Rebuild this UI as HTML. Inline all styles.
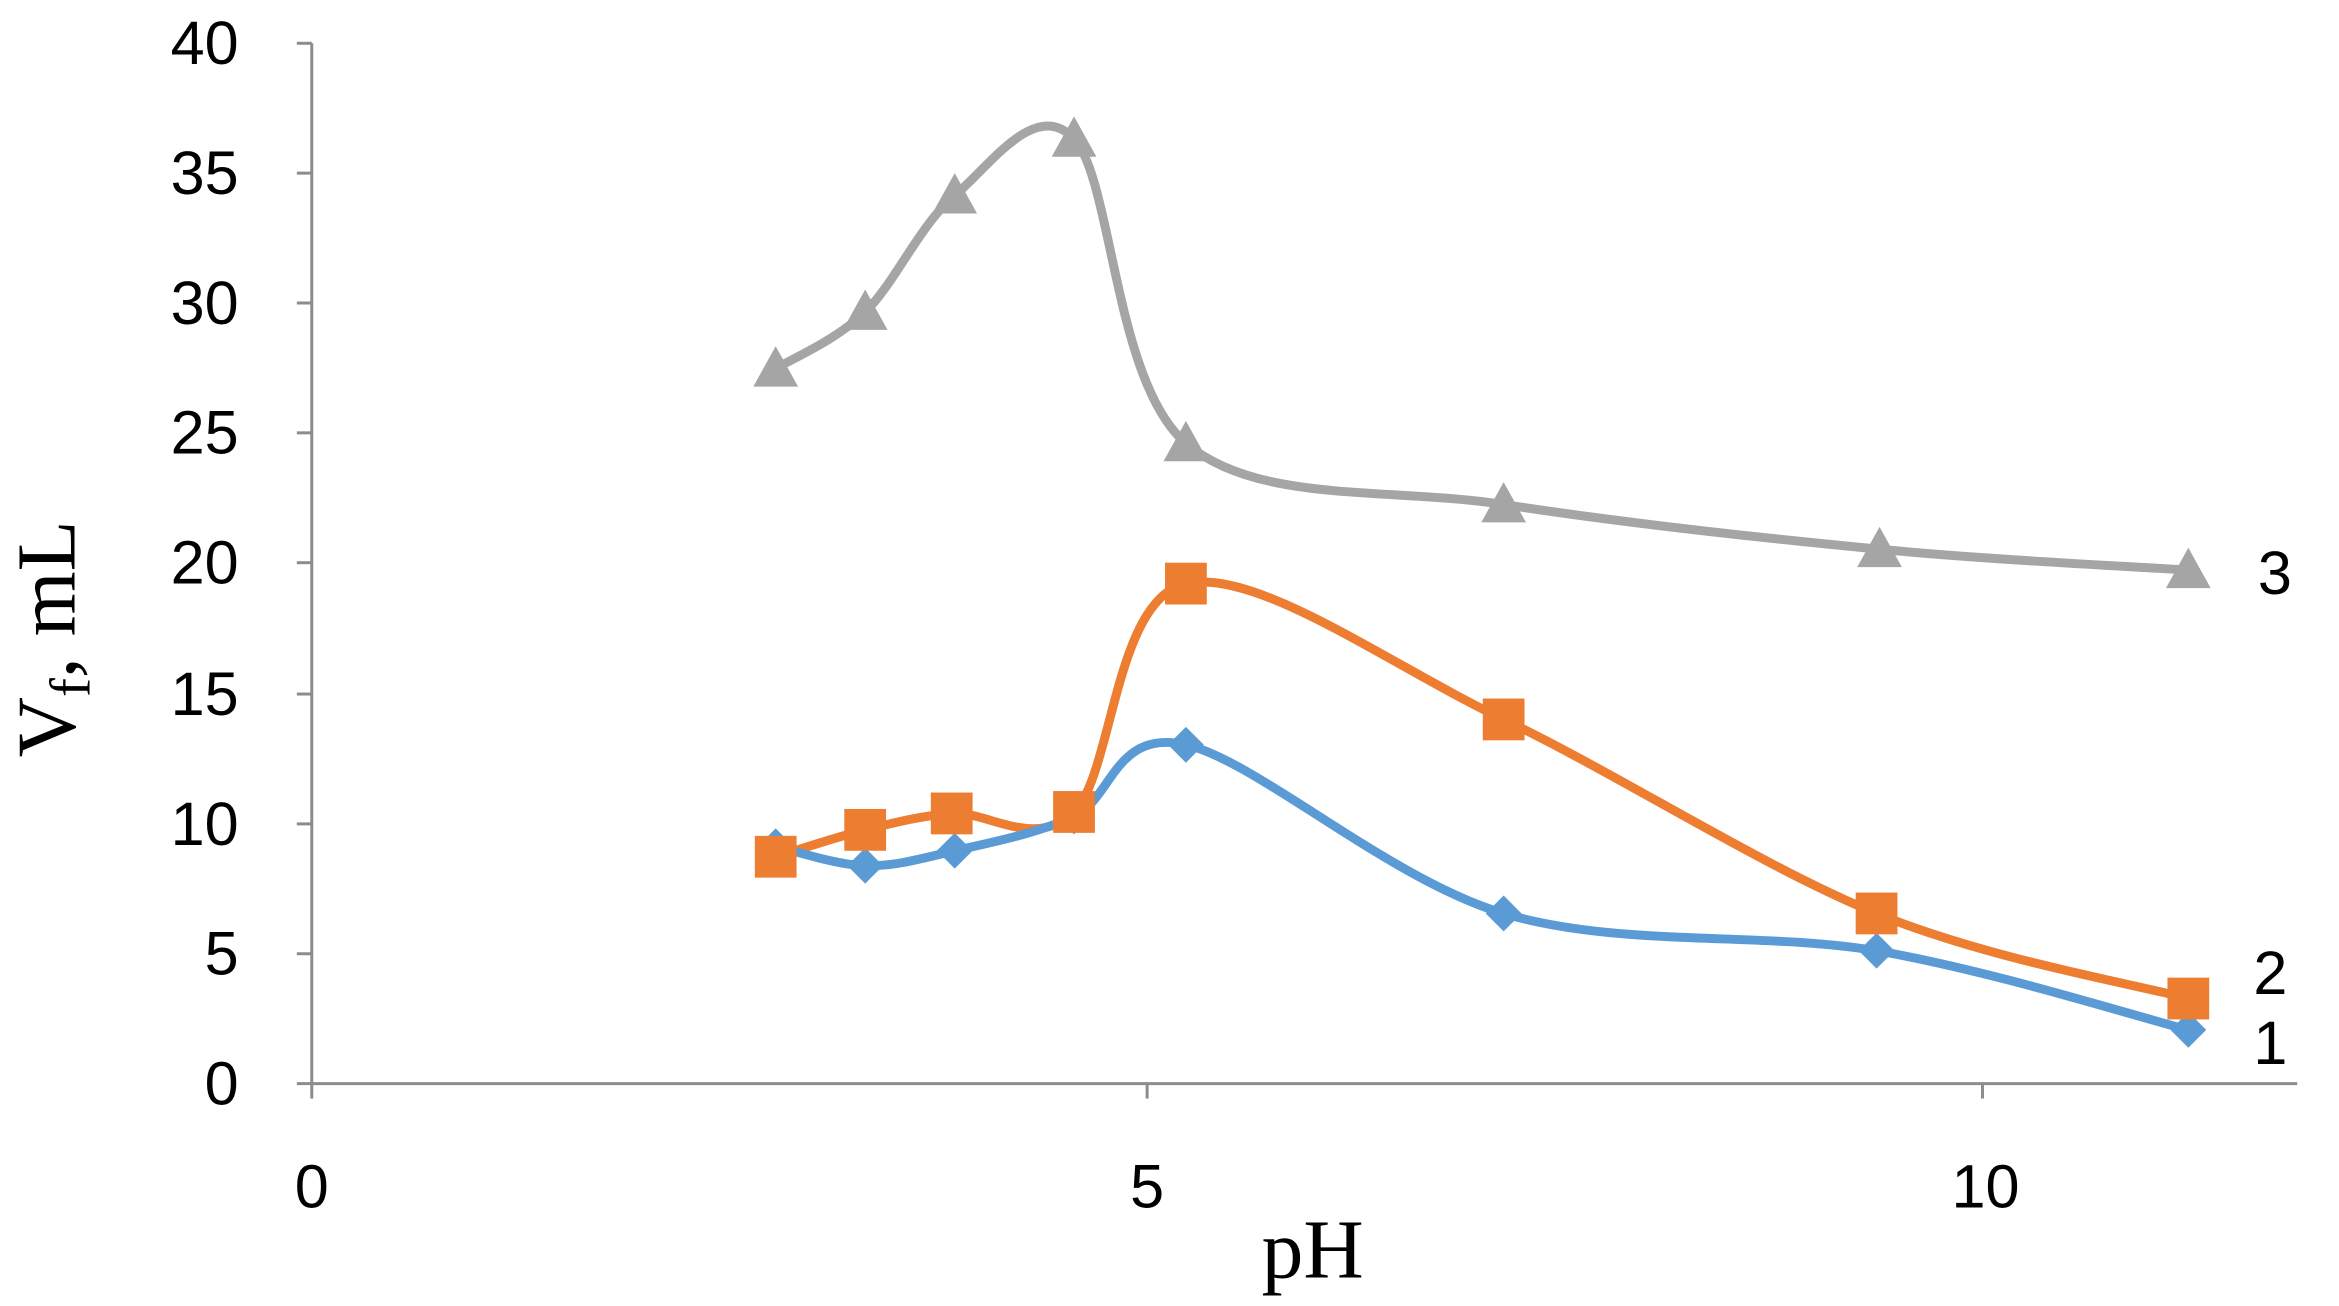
<!DOCTYPE html>
<html><head><meta charset="utf-8"><style>
html,body{margin:0;padding:0;background:#fff;}
svg{display:block;}
</style></head><body>
<svg id="s" width="2339" height="1306" viewBox="0 0 1568 875" preserveAspectRatio="none" xmlns="http://www.w3.org/2000/svg">
<rect width="1568" height="875" fill="#fff"/>
<g stroke="#8c8c8c" stroke-width="2" fill="none">
<line x1="209" y1="29" x2="209" y2="726"/>
<line x1="209" y1="726" x2="1540" y2="726"/>
<line x1="199" y1="29" x2="209" y2="29"/>
<line x1="199" y1="116" x2="209" y2="116"/>
<line x1="199" y1="203" x2="209" y2="203"/>
<line x1="199" y1="290" x2="209" y2="290"/>
<line x1="199" y1="377" x2="209" y2="377"/>
<line x1="199" y1="465" x2="209" y2="465"/>
<line x1="199" y1="552" x2="209" y2="552"/>
<line x1="199" y1="639" x2="209" y2="639"/>
<line x1="199" y1="726" x2="209" y2="726"/>
<line x1="209" y1="726" x2="209" y2="736"/>
<line x1="769" y1="726" x2="769" y2="736"/>
<line x1="1329" y1="726" x2="1329" y2="736"/>
</g>
<g font-family="Liberation Sans, sans-serif" font-size="41" fill="#000" text-anchor="end">
<text x="160" y="43">40</text><text x="160" y="130">35</text><text x="160" y="217">30</text>
<text x="160" y="304">25</text><text x="160" y="391">20</text><text x="160" y="479">15</text>
<text x="160" y="566">10</text><text x="160" y="653">5</text><text x="160" y="740">0</text>
</g>
<g font-family="Liberation Sans, sans-serif" font-size="41" fill="#000" text-anchor="middle">
<text x="209" y="809">0</text><text x="769" y="809">5</text><text x="1331" y="809">10</text>
<text x="1525" y="398">3</text><text x="1522" y="666">2</text><text x="1522" y="713">1</text>
</g>
<text x="880" y="856" font-family="Liberation Serif, serif" font-size="56" text-anchor="middle">pH</text>
<text transform="translate(50,428) rotate(-90)" font-family="Liberation Serif, serif" font-size="56" text-anchor="middle">V<tspan font-size="38" dy="10">f</tspan><tspan dy="-10">, mL</tspan></text>
<path id="p3" fill="none" stroke="#a5a5a5" stroke-width="6"/>
<path id="p2" fill="none" stroke="#ed7d31" stroke-width="6"/>
<path id="p1" fill="none" stroke="#5b9bd5" stroke-width="6"/>
<g id="m"></g>
</svg>
<script>
var d3=[[520,247],[580,209],[640,131],[720,93],[795,297],[1008,338],[1260,368],[1467,382]];
var d2=[[520,574],[580,556],[638,545],[720,544],[795,391],[1008,482],[1258,612],[1467,669]];
var d1=[[520,567],[580,580],[640,570],[720,547],[795,499],[1008,612],[1258,637],[1467,690]];
function cr(p){var s="M"+p[0][0]+","+p[0][1];for(var i=0;i<p.length-1;i++){var a=p[Math.max(i-1,0)],b=p[i],c=p[i+1],d=p[Math.min(i+2,p.length-1)],t=6;
s+=" C"+(b[0]+(c[0]-a[0])/t)+","+(b[1]+(c[1]-a[1])/t)+" "+(c[0]-(d[0]-b[0])/t)+","+(c[1]-(d[1]-b[1])/t)+" "+c[0]+","+c[1];}return s;}
document.getElementById("p3").setAttribute("d",cr(d3));
document.getElementById("p2").setAttribute("d",cr(d2));
document.getElementById("p1").setAttribute("d",cr(d1));
var h="";
d1.forEach(function(p){h+='<polygon fill="#5b9bd5" points="'+p[0]+','+(p[1]-12)+' '+(p[0]+12)+','+p[1]+' '+p[0]+','+(p[1]+12)+' '+(p[0]-12)+','+p[1]+'"/>';});
d2.forEach(function(p){h+='<rect fill="#ed7d31" x="'+(p[0]-14)+'" y="'+(p[1]-14)+'" width="28" height="28"/>';});
d3.forEach(function(p){h+='<polygon fill="#a5a5a5" points="'+p[0]+','+(p[1]-15)+' '+(p[0]+15)+','+(p[1]+12)+' '+(p[0]-15)+','+(p[1]+12)+'"/>';});
document.getElementById("m").innerHTML=h;
</script>
</body></html>
